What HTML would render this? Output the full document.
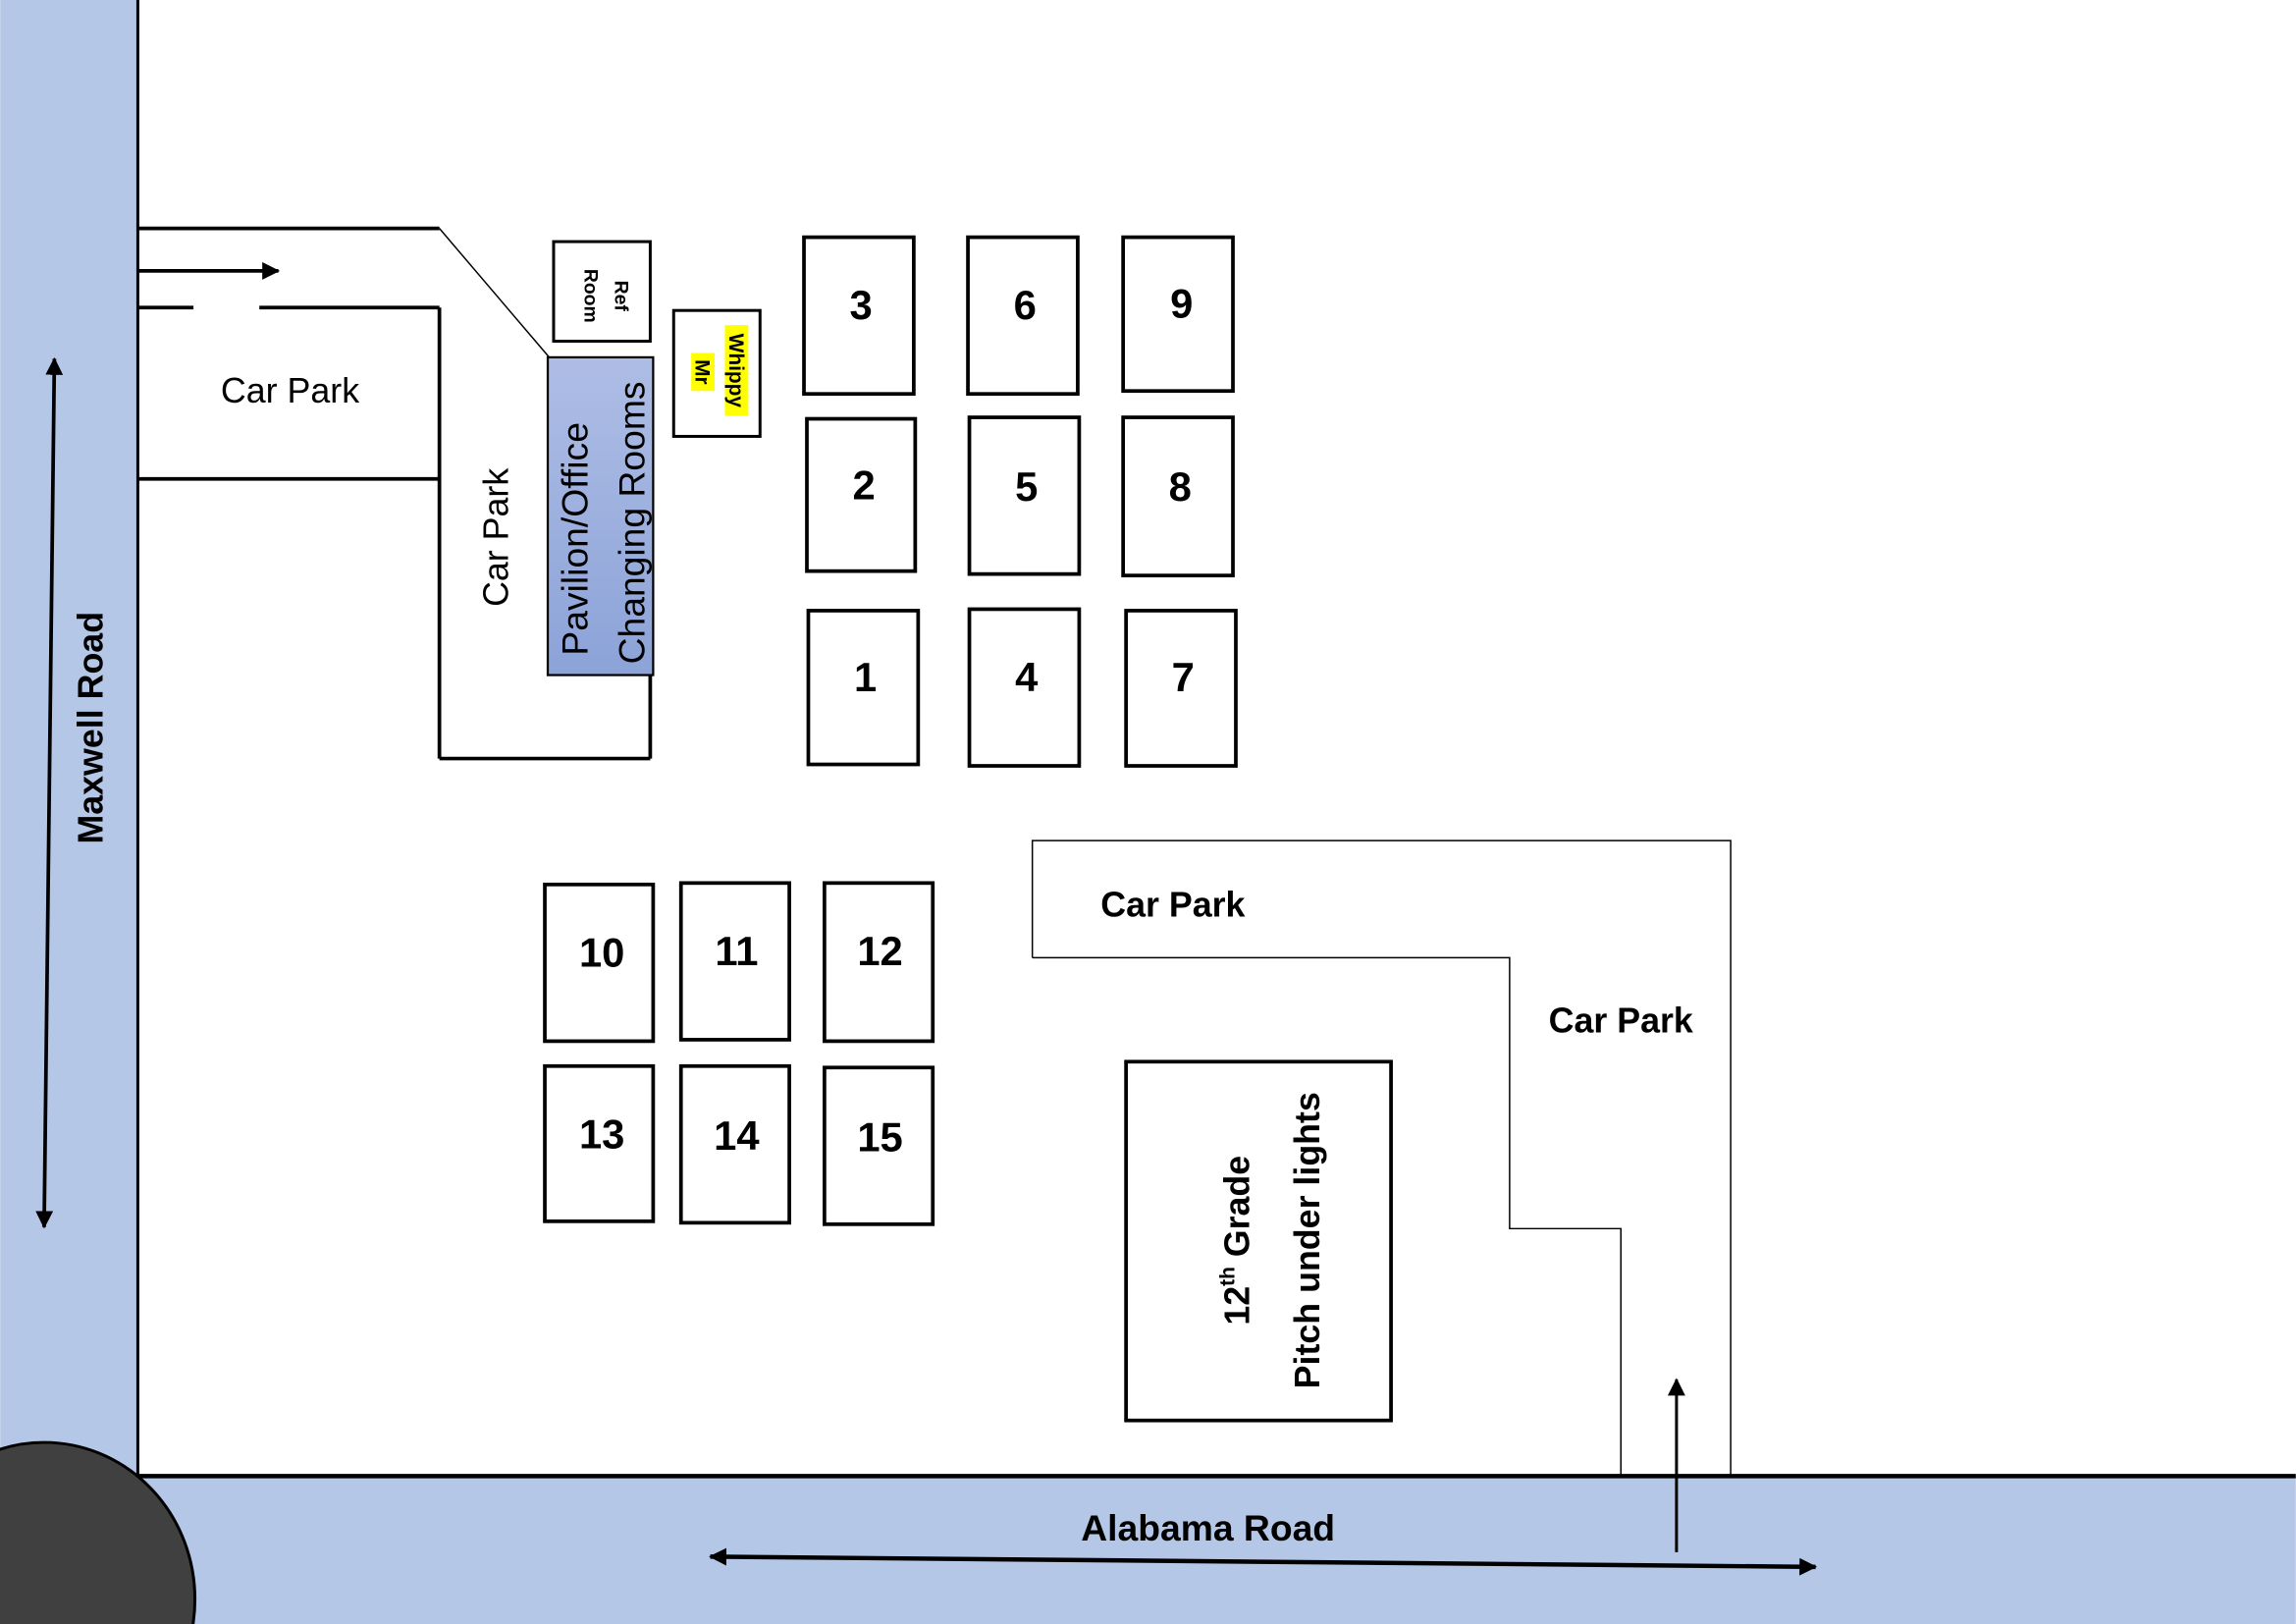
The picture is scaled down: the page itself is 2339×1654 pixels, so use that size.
<!DOCTYPE html>
<html><head><style>html,body{margin:0;padding:0;background:#fff;width:2339px;height:1654px;overflow:hidden}svg{display:block}</style></head><body>
<svg width="2339" height="1654" viewBox="0 0 1568 1109" xmlns="http://www.w3.org/2000/svg" font-family="Liberation Sans, sans-serif">
<defs>
<linearGradient id="pg" x1="0" y1="0" x2="0" y2="1"><stop offset="0" stop-color="#aebde5"/><stop offset="1" stop-color="#8ca3d8"/></linearGradient>
<marker id="ah2" markerWidth="12" markerHeight="12" refX="11" refY="6" orient="auto" markerUnits="userSpaceOnUse"><path d="M0,0 L12,6 L0,12 z" fill="#000"/></marker>
<marker id="ahs" markerWidth="12" markerHeight="12" refX="1" refY="6" orient="auto" markerUnits="userSpaceOnUse"><path d="M12,0 L0,6 L12,12 z" fill="#000"/></marker>
</defs>
<rect x="0" y="0" width="94" height="1109" fill="#b4c7e7"/>
<rect x="0" y="1008" width="1568" height="101" fill="#b4c7e7"/>
<line x1="94" y1="0" x2="94" y2="1008" stroke="#000" stroke-width="2"/>
<line x1="94" y1="1008" x2="1568" y2="1008" stroke="#000" stroke-width="3"/>
<ellipse cx="30" cy="1092" rx="103" ry="107" fill="#404040" stroke="#000" stroke-width="2"/>
<line x1="37" y1="245" x2="30" y2="838" stroke="#000" stroke-width="2.5" marker-end="url(#ah2)" marker-start="url(#ahs)"/>
<text transform="translate(70,497) rotate(-90)" text-anchor="middle" font-size="24" font-weight="bold">Maxwell Road</text>
<line x1="485" y1="1063" x2="1240" y2="1070" stroke="#000" stroke-width="3" marker-end="url(#ah2)" marker-start="url(#ahs)"/>
<text x="825" y="1052" text-anchor="middle" font-size="25" font-weight="bold">Alabama Road</text>
<line x1="1145" y1="1060" x2="1145" y2="942" stroke="#000" stroke-width="2" marker-end="url(#ah2)"/>
<g stroke="#000" stroke-width="2.5" fill="none">
<line x1="94" y1="156" x2="300" y2="156"/>
<line x1="94" y1="210" x2="132" y2="210"/>
<line x1="177" y1="210" x2="300" y2="210"/>
<line x1="94" y1="327" x2="300" y2="327"/>
<line x1="300" y1="210" x2="300" y2="518"/>
<line x1="300" y1="518" x2="444" y2="518"/>
<line x1="444" y1="458" x2="444" y2="518"/>
</g>
<line x1="94" y1="185" x2="190" y2="185" stroke="#000" stroke-width="2.5" marker-end="url(#ah2)"/>
<line x1="300" y1="156" x2="375" y2="244" stroke="#000" stroke-width="1"/>
<text x="198" y="275" text-anchor="middle" font-size="24">Car Park</text>
<text transform="translate(347,367) rotate(-90)" text-anchor="middle" font-size="24">Car Park</text>
<rect x="378" y="165" width="66" height="68" fill="#fff" stroke="#000" stroke-width="2"/>
<text transform="translate(420,202) rotate(90)" text-anchor="middle" font-size="13" font-weight="bold">Ref</text>
<text transform="translate(399,202) rotate(90)" text-anchor="middle" font-size="13" font-weight="bold">Room</text>
<rect x="374" y="244" width="72" height="217" fill="url(#pg)" stroke="#000" stroke-width="1.5"/>
<text transform="translate(401,368) rotate(-90)" text-anchor="middle" font-size="25">Pavilion/Office</text>
<text transform="translate(440,357) rotate(-90)" text-anchor="middle" font-size="25">Changing Rooms</text>
<rect x="460" y="212" width="59" height="86" fill="#fff" stroke="#000" stroke-width="2"/>
<rect x="472" y="241" width="16" height="26" fill="#ffff00"/>
<rect x="495" y="222" width="16" height="62" fill="#ffff00"/>
<text transform="translate(475,254) rotate(90)" text-anchor="middle" font-size="14" font-weight="bold">Mr</text>
<text transform="translate(498,253) rotate(90)" text-anchor="middle" font-size="14" font-weight="bold">Whippy</text>
<g fill="#fff" stroke="#000" stroke-width="2.5">
<rect x="549" y="162" width="75" height="107"/>
<rect x="661" y="162" width="75" height="107"/>
<rect x="767" y="162" width="75" height="105"/>
<rect x="551" y="286" width="74" height="104"/>
<rect x="662" y="285" width="75" height="107"/>
<rect x="767" y="285" width="75" height="108"/>
<rect x="552" y="417" width="75" height="105"/>
<rect x="662" y="416" width="75" height="107"/>
<rect x="769" y="417" width="75" height="106"/>
<rect x="372" y="604" width="74" height="107"/>
<rect x="465" y="603" width="74" height="107"/>
<rect x="563" y="603" width="74" height="108"/>
<rect x="372" y="728" width="74" height="106"/>
<rect x="465" y="728" width="74" height="107"/>
<rect x="563" y="729" width="74" height="107"/>
<rect x="769" y="725" width="181" height="245"/>
</g>
<g font-size="28" font-weight="bold" text-anchor="middle">
<text x="588" y="218">3</text><text x="700" y="218">6</text><text x="807" y="217">9</text>
<text x="590" y="341">2</text><text x="701" y="342">5</text><text x="806" y="342">8</text>
<text x="591" y="472">1</text><text x="701" y="472">4</text><text x="808" y="472">7</text>
<text x="411" y="660">10</text><text x="503" y="659">11</text><text x="601" y="659">12</text>
<text x="411" y="784">13</text><text x="503" y="785">14</text><text x="601" y="786">15</text>
</g>
<g stroke="#000" stroke-width="1" fill="none">
<polyline points="705,654 705,574 1182,574 1182,1008"/>
<polyline points="705,654 1031,654 1031,839 1107,839 1107,1008"/>
</g>
<text x="801" y="626" text-anchor="middle" font-size="24" font-weight="bold">Car Park</text>
<text x="1107" y="705" text-anchor="middle" font-size="24" font-weight="bold">Car Park</text>
<text transform="translate(853,847) rotate(-90)" text-anchor="middle" font-size="24" font-weight="bold">12<tspan font-size="14" dy="-10">th</tspan><tspan dy="10"> Grade</tspan></text>
<text transform="translate(901,847) rotate(-90)" text-anchor="middle" font-size="24" font-weight="bold">Pitch under lights</text>
</svg>
</body></html>
